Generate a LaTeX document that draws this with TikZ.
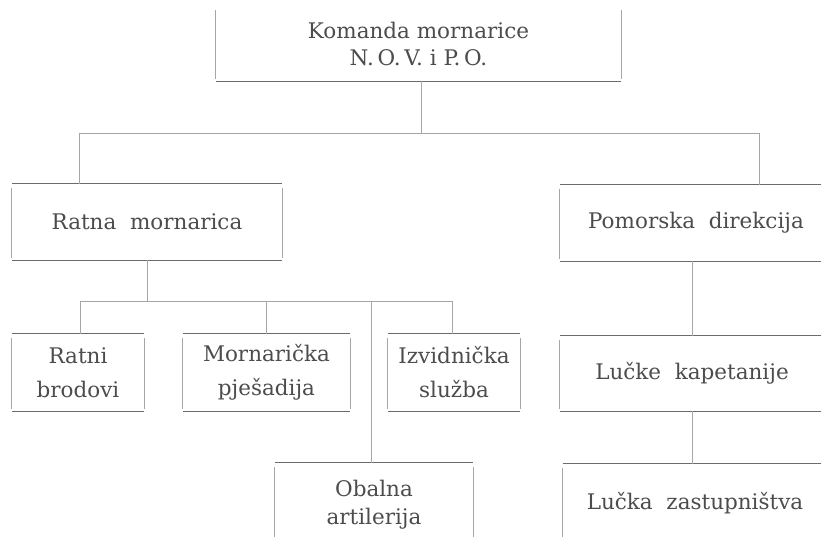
\documentclass[tikz,border=0pt]{standalone}
\usepackage{fontspec}
\setmainfont{DejaVu Serif}
\usetikzlibrary{calc}

\definecolor{inkcolor}{rgb}{0.300000, 0.300000, 0.300000}
\definecolor{rulecolor}{rgb}{0.420000, 0.420000, 0.420000}
\definecolor{sidecolor}{rgb}{0.650000, 0.650000, 0.650000}

\tikzset{
  unit/.style={inner sep=0pt, align=center, text=inkcolor,
    font=\fontsize{21.5}{34}\selectfont},
  hrule/.style={draw=rulecolor, line width=1.1pt},
  vrule/.style={draw=sidecolor, line width=0.8pt},
  wire/.style={draw=sidecolor, line width=0.9pt}
}

\begin{document}
\begin{tikzpicture}[x=1pt,y=-1pt]
\useasboundingbox (0,0) rectangle (821,537);
\clip (0,0) rectangle (821,537);
% boxes
\node[unit, minimum width=405, minimum height=75, font=\fontsize{21.5}{27}\selectfont] (komanda) at (418.5,43.5) {Komanda mornarice\\N.\,O.\,V. i P.\,O.};
\node[unit, minimum width=270, minimum height=76] (ratna) at (147,222) {Ratna\ \ mornarica};
\node[unit, minimum width=272, minimum height=76] (pomorska) at (696,223) {Pomorska\ \ direkcija};
\node[unit, minimum width=132, minimum height=77] (brodovi) at (78,372.5) {Ratni\\brodovi};
\node[unit, minimum width=167, minimum height=77] (pjesadija) at (266.5,372.5) {Mornarička\\pješadija};
\node[unit, minimum width=132, minimum height=77] (sluzba) at (454,372.5) {Izvidnička\\služba};
\node[unit, minimum width=198, minimum height=84, font=\fontsize{21.5}{28}\selectfont] (obalna) at (374,505) {Obalna\\artilerija};
\node[unit, minimum width=264, minimum height=75] (kapetanije) at (692,373.5) {Lučke\ \ kapetanije};
\node[unit, minimum width=264, minimum height=78] (zastupnistva) at (695,503) {Lučka\ \ zastupništva};
\foreach \n in {komanda,ratna,pomorska,brodovi,pjesadija,sluzba,obalna,kapetanije,zastupnistva}{
  \draw[hrule] (\n.south west) -- (\n.south east);
  \draw[vrule] ([yshift=-4]\n.north west) -- ([yshift=2]\n.south west) ([yshift=-4]\n.north east) -- ([yshift=2]\n.south east);
}
\foreach \n in {ratna,pomorska,brodovi,pjesadija,sluzba,obalna,kapetanije,zastupnistva}{
  \draw[hrule] (\n.north west) -- (\n.north east);
}
% top level bus
\coordinate (busL) at (79,133);
\coordinate (busR) at (759,133);
\draw[wire] (busL) -- (busR);
\draw[wire] ([xshift=3]komanda.south) -- ([xshift=3]komanda.south |- busL);
\draw[wire] (busL) -- (busL |- ratna.north);
\draw[wire] (busR) -- (busR |- pomorska.north);
% navy bus
\coordinate (navyL) at (80,301);
\coordinate (navyR) at (452,301);
\draw[wire] (navyL) -- (navyR);
\draw[wire] (ratna.south) -- (ratna.south |- navyL);
\draw[wire] (navyL) -- (navyL |- brodovi.north);
\draw[wire] (pjesadija.north |- navyL) -- (pjesadija.north);
\draw[wire] (navyR) -- (navyR |- sluzba.north);
\draw[wire] ([xshift=-3]obalna.north |- navyL) -- ([xshift=-3]obalna.north);
% harbour chain
\draw[wire] (kapetanije.north |- pomorska.south) -- (kapetanije.north);
\draw[wire] (kapetanije.south) -- (kapetanije.south |- zastupnistva.north);
\end{tikzpicture}
\end{document}
